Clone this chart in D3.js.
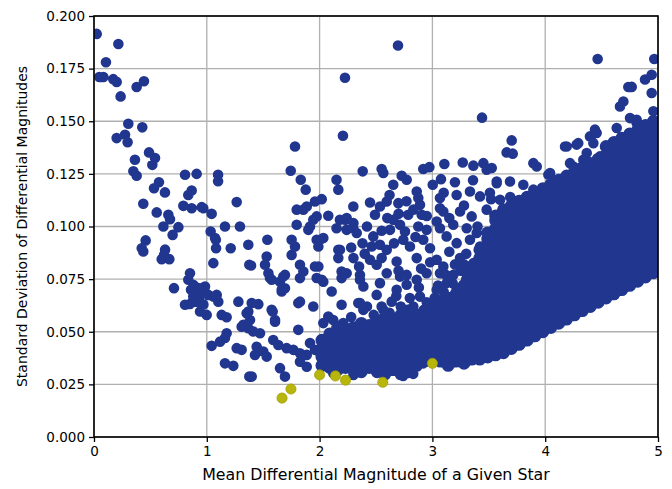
<!DOCTYPE html>
<html><head><meta charset="utf-8">
<script src="https://cdn.jsdelivr.net/npm/d3@7/dist/d3.min.js"></script>
<style>body{margin:0;background:#fff}svg{display:block}text{font-family:"DejaVu Sans",sans-serif}</style>
</head><body><svg id="c" width="672" height="489"></svg>
<script>
const xTicks = [0, 1, 2, 3, 4, 5];
const yTicks = [0, 0.025, 0.05, 0.075, 0.1, 0.125, 0.15, 0.175, 0.2];
const xLabel = "Mean Differential Magnitude of a Given Star";
const yLabel = "Standard Deviation of Differential Magnitudes";

// individually readable stars (x = mean diff. mag, y = std dev)
const sparseStars = [
[0.024,0.1915],[0.216,0.1867],[0.106,0.178],[0.047,0.171],[0.083,0.171],[0.171,0.170],[0.201,0.1687],[0.236,0.1618],[0.378,0.1663],[0.443,0.169],
[0.304,0.1488],[0.428,0.1471],[0.201,0.142],[0.275,0.1436],[0.298,0.140],[0.488,0.1352],[0.541,0.1325],[0.363,0.1317],[0.517,0.1293],[0.349,0.1262],
[0.378,0.1241],[0.807,0.1246],[0.91,0.125],[1.10,0.1246],[1.10,0.1215],[0.576,0.121],[0.532,0.1182],[0.629,0.1162],[0.866,0.1171],[0.836,0.115],
[0.437,0.1108],[0.792,0.1098],[0.866,0.1087],[0.955,0.1092],[1.043,0.106],[0.556,0.1067],[0.659,0.1056],[0.674,0.1035],[0.615,0.100],[0.748,0.0997],
[0.697,0.096],[1.034,0.0976],[0.458,0.0934],[1.08,0.0937],[0.423,0.0897],[0.63,0.089],[0.437,0.0881],[0.621,0.0865],[0.60,0.0845],[0.668,0.0845],
[1.073,0.0945],[1.082,0.0897],[1.212,0.0897],[1.368,0.0913],[1.058,0.0826],[1.377,0.0818],[0.851,0.0778],[0.709,0.0707],
[0.836,0.0747],[0.88,0.0723],[0.925,0.0707],[0.984,0.0715],[0.955,0.0683],[0.88,0.0667],[0.807,0.0628],[0.851,0.0632],[0.91,0.0643],[1.013,0.0675],
[1.088,0.0675],[1.102,0.0643],[0.94,0.0596],[0.999,0.058],[1.132,0.058],[1.176,0.0569],[1.28,0.0643],[1.353,0.0588],[1.309,0.0524],[1.176,0.0493],
[1.161,0.047],[1.117,0.0453],[1.043,0.0433],[1.265,0.0422],[1.309,0.0414],[1.161,0.035],[1.235,0.0338],[1.377,0.0287],
[0.86,0.070],[0.90,0.068],[0.93,0.066],[0.97,0.063],[0.87,0.064],
[1.782,0.138],[1.744,0.1265],[1.833,0.1222],[1.877,0.1175],[1.265,0.1116],[0.969,0.1087],[1.161,0.100],[1.294,0.100],[1.537,0.0937],[1.392,0.0815],
[1.752,0.0937],[1.782,0.0905],[1.752,0.0865],[1.531,0.0857],[1.516,0.0818],[1.797,0.108],[1.856,0.108],[1.886,0.1095],[1.959,0.1119],[2.019,0.113],
[1.797,0.1008],[1.944,0.1032],[1.974,0.1048],[1.915,0.100],[1.90,0.0984],[2.077,0.1051],[2.15,0.1222],[2.166,0.1175],[2.299,0.1095],[2.18,0.1032],
[2.24,0.104],[2.15,0.0992],[2.299,0.0992],[1.974,0.0937],[2.033,0.0945],[1.989,0.0905],[1.989,0.081],[2.166,0.0889],[2.166,0.085],[2.195,0.0786],
[1.826,0.0818],[1.856,0.0786],[1.546,0.0778],
[2.225,0.1707],[2.207,0.1431],[2.695,0.186],[3.44,0.1517],
[2.382,0.1262],[2.55,0.1273],[2.565,0.1254],[2.728,0.1241],[2.772,0.1222],[2.653,0.1198],[2.919,0.1273],[2.973,0.1282],[3.106,0.1297],[3.269,0.1304],
[3.363,0.1289],[3.452,0.1301],[3.481,0.127],[3.003,0.1198],[3.076,0.1225],[3.2,0.121],[3.067,0.1135],[3.215,0.115],[3.333,0.1166],[3.422,0.1143],
[3.57,0.1206],[3.658,0.1352],[2.447,0.1114],[2.535,0.1095],[2.595,0.1119],[2.698,0.1111],[2.491,0.1056],[2.861,0.1166],[2.875,0.1135],[2.89,0.1103],
[2.831,0.108],[2.786,0.1056],[2.905,0.1056],[3.067,0.1087],[3.097,0.1071],[3.245,0.1071],[3.348,0.1048],[3.481,0.108],[2.225,0.1032],[2.3,0.1016],
[2.24,0.0984],[2.329,0.0969],[2.653,0.1032],[2.713,0.1008],[2.624,0.0984],[2.757,0.0976],[2.875,0.100],[2.949,0.0984],[3.038,0.1024],[3.067,0.0992],
[3.185,0.1008],[3.304,0.0992],[3.393,0.0969],[3.511,0.0969],[2.476,0.0953],[2.535,0.0913],[2.462,0.0905],[2.595,0.0889],[2.742,0.0937],[2.801,0.0905],
[2.919,0.0937],[2.979,0.0897],[3.126,0.0953],[3.215,0.0921],[3.333,0.0937],[3.422,0.0905],[3.57,0.0921],[2.447,0.0842],[2.506,0.0818],[2.683,0.0834],
[2.861,0.085],[3.038,0.0842],[3.097,0.081],[3.245,0.085],[3.363,0.0826],[3.511,0.0857],[3.629,0.081],[2.24,0.0778],[2.358,0.077],[2.595,0.0778],
[2.772,0.077],[2.949,0.0778],[3.185,0.077],[3.422,0.0778],
[2.62,0.115],[2.70,0.106],[2.60,0.104],[2.77,0.112],[2.42,0.100],[2.38,0.092],[2.40,0.087],[2.30,0.085],[2.28,0.090],[2.55,0.098],
[2.66,0.092],[2.85,0.095],[2.95,0.105],[3.15,0.104],[3.28,0.110],[3.40,0.100],[3.30,0.087],[3.15,0.088],[2.98,0.083],[2.90,0.080],
[2.70,0.079],[2.55,0.085],[2.35,0.081],[3.10,0.116],[3.52,0.113],[3.36,0.122],
[1.058,0.0667],[1.368,0.0596],[1.457,0.0631],[1.383,0.0556],[1.324,0.0533],[1.584,0.0596],[1.605,0.0548],[1.56,0.0755],[1.678,0.0762],[1.664,0.0691],
[1.693,0.0707],[1.811,0.0636],[1.944,0.062],[2.019,0.0747],[2.107,0.0691],[2.195,0.0628],[2.343,0.0636],[1.811,0.0509],[1.472,0.0493],[1.412,0.0501],
[1.368,0.0517],[1.442,0.0429],[1.501,0.0406],[1.531,0.0382],[1.427,0.039],[1.589,0.0461],[1.634,0.0437],[1.708,0.0422],[1.767,0.0414],[1.826,0.0398],
[1.886,0.039],[1.915,0.0446],[1.959,0.0414],[2.004,0.0398],[2.063,0.0437],[2.033,0.0541],[2.077,0.0572],[2.121,0.0556],[2.15,0.0524],[2.21,0.0541],
[2.27,0.0509],[2.24,0.0477],[2.299,0.0446],[2.329,0.0398],[1.826,0.0358],[1.886,0.0334],[1.398,0.0287],[1.649,0.0327],[1.693,0.0287],[2.121,0.0303],
[2.299,0.0334],
[1.649,0.0738],[1.575,0.0747],[1.693,0.077],[1.664,0.0699],[1.826,0.0755],[1.959,0.081],[1.974,0.0755],[2.033,0.0738],[2.195,0.0755],[2.18,0.0889],
[2.004,0.0937],[1.826,0.0643],[1.398,0.0636],[1.575,0.0604],[1.605,0.0556],
[2.358,0.0747],[2.388,0.0715],[2.535,0.0731],[2.506,0.0675],[2.358,0.0636],[2.388,0.0604],[2.713,0.0762],[2.683,0.0699],[2.772,0.0723],[2.861,0.0747],
[2.89,0.0667],[2.831,0.062],[2.72,0.062],[2.639,0.0643],[2.565,0.0604],[3.067,0.0778],[3.126,0.0731],[3.038,0.0699],[3.067,0.0651],[3.215,0.0699],
[3.30,0.075],[3.363,0.0715],[3.452,0.0731],[3.57,0.0747],[3.363,0.0651],[3.481,0.0636],[3.60,0.0667],
[3.02,0.066],[3.10,0.069],[3.18,0.073],[3.25,0.079],[3.12,0.077],[3.20,0.082],[3.28,0.082],[3.05,0.072],[3.33,0.078],[2.95,0.064],
[2.88,0.071],[2.80,0.066],[2.62,0.059],[2.48,0.058],[2.42,0.062],[2.55,0.062],[2.28,0.057],[2.68,0.067],
[2.30,0.0295],[2.74,0.029],[2.83,0.030],[2.92,0.035],[3.13,0.034],[3.29,0.035],[3.42,0.0375],[2.98,0.037],
[4.465,0.1796],[4.967,0.1796],[4.944,0.1721],[4.885,0.1698],[4.737,0.1663],[4.767,0.1663],[4.944,0.1634],[4.693,0.1594],[4.663,0.157],[4.959,0.1547],
[4.752,0.1515],[4.811,0.1507],[4.634,0.1468],[4.441,0.146],[4.90,0.1476],[3.703,0.1409],[3.712,0.1346],[3.895,0.1301],[3.925,0.1285],[4.19,0.138],
[4.293,0.1396],[4.397,0.1428],[4.427,0.1396],[4.604,0.1404],[4.84,0.1436],[4.043,0.1254],[4.072,0.1222],[4.249,0.1285],[4.368,0.1349],[4.486,0.1333],
[4.722,0.138],[4.90,0.1412],[3.526,0.1278],[3.57,0.1214],[3.688,0.1214],[3.806,0.1198],[3.895,0.1175],[4.028,0.1246],[3.954,0.1166],[4.176,0.138],
[4.279,0.1389],[4.22,0.1301],[4.338,0.1317],[4.456,0.1444],[4.811,0.1491],[4.929,0.1476],[3.51,0.116],[3.60,0.1127],[3.69,0.114],[3.84,0.1127],[3.93,0.1135]
];

// crowded part of the cloud, read column by column (x, list of y)
const denseColX = [2.02,2.09,2.16,2.23,2.30,2.37,2.44,2.51,2.58,2.65,2.72,2.79,2.86,2.93,3.00,3.07,3.14,3.21,3.28,3.35,3.42,3.49,3.56,
 3.63,3.70,3.77,3.84,3.91,3.98,4.05,4.12,4.19,4.26,4.33,4.40,4.47,4.54,4.61,4.68,4.75,4.82,4.89,4.96];
const denseColY = [
[0.034,0.038,0.042,0.046],
[0.033,0.037,0.041,0.045,0.049],
[0.032,0.036,0.040,0.044,0.048,0.052],
[0.033,0.037,0.041,0.045,0.049],
[0.032,0.036,0.040,0.044,0.048,0.052],
[0.031,0.034,0.038,0.042,0.046,0.050,0.054],
[0.033,0.037,0.041,0.045,0.049,0.053],
[0.031,0.035,0.039,0.043,0.047,0.051,0.055],
[0.030,0.034,0.038,0.042,0.046,0.050,0.054,0.057],
[0.032,0.036,0.040,0.044,0.048,0.052,0.056],
[0.030,0.034,0.038,0.042,0.046,0.050,0.054,0.058],
[0.031,0.036,0.040,0.044,0.048,0.052,0.056,0.060],
[0.034,0.038,0.042,0.046,0.050,0.054,0.058],
[0.036,0.040,0.044,0.048,0.052,0.056,0.060],
[0.038,0.042,0.046,0.050,0.054,0.058,0.062],
[0.036,0.040,0.044,0.048,0.052,0.056,0.060,0.064],
[0.034,0.038,0.042,0.046,0.050,0.054,0.058,0.062,0.066],
[0.036,0.040,0.044,0.048,0.052,0.056,0.060,0.064,0.068],
[0.035,0.039,0.043,0.047,0.051,0.055,0.059,0.063,0.067,0.072],
[0.037,0.041,0.045,0.049,0.053,0.057,0.061,0.065,0.069,0.074,0.078,0.081],
[0.037,0.041,0.045,0.049,0.053,0.057,0.061,0.065,0.069,0.073,0.077,0.081,0.085,0.089],
[0.038,0.042,0.046,0.050,0.054,0.058,0.062,0.066,0.070,0.074,0.078,0.082,0.086,0.090,0.094,0.097],
[0.039,0.043,0.047,0.051,0.055,0.059,0.063,0.067,0.071,0.075,0.079,0.083,0.087,0.091,0.095,0.099,0.103,0.105],
[0.040,0.044,0.048,0.052,0.056,0.061,0.064,0.068,0.072,0.076,0.080,0.084,0.089,0.092,0.096,0.100,0.104,0.108],
[0.042,0.046,0.050,0.054,0.058,0.062,0.066,0.071,0.074,0.078,0.082,0.086,0.090,0.094,0.098,0.102,0.106,0.110],
[0.044,0.048,0.052,0.056,0.060,0.064,0.068,0.072,0.076,0.080,0.085,0.088,0.092,0.096,0.100,0.104,0.108,0.112],
[0.046,0.050,0.054,0.058,0.062,0.066,0.070,0.074,0.078,0.082,0.086,0.090,0.094,0.098,0.102,0.106,0.110,0.114],
[0.048,0.052,0.056,0.060,0.064,0.068,0.072,0.076,0.081,0.084,0.088,0.092,0.096,0.100,0.104,0.108,0.112,0.116],
[0.050,0.054,0.058,0.062,0.066,0.070,0.074,0.078,0.082,0.086,0.090,0.094,0.098,0.102,0.106,0.110,0.114,0.118],
[0.052,0.056,0.060,0.064,0.068,0.072,0.076,0.080,0.084,0.088,0.092,0.096,0.100,0.104,0.108,0.112,0.116,0.120],
[0.054,0.058,0.062,0.066,0.070,0.074,0.078,0.082,0.086,0.090,0.094,0.098,0.102,0.106,0.110,0.114,0.118,0.122],
[0.056,0.060,0.064,0.068,0.072,0.076,0.080,0.084,0.088,0.092,0.096,0.100,0.104,0.108,0.112,0.116,0.120,0.124],
[0.058,0.062,0.066,0.070,0.074,0.078,0.082,0.086,0.090,0.094,0.098,0.102,0.106,0.110,0.114,0.118,0.122,0.126],
[0.060,0.064,0.068,0.072,0.076,0.080,0.084,0.088,0.092,0.096,0.100,0.104,0.108,0.112,0.116,0.120,0.124,0.128],
[0.062,0.066,0.070,0.074,0.078,0.082,0.086,0.090,0.094,0.098,0.102,0.106,0.110,0.114,0.118,0.122,0.126,0.130],
[0.064,0.068,0.072,0.076,0.080,0.084,0.088,0.092,0.096,0.100,0.104,0.108,0.112,0.116,0.120,0.124,0.128,0.132],
[0.066,0.070,0.074,0.078,0.082,0.086,0.090,0.094,0.098,0.102,0.106,0.110,0.114,0.118,0.122,0.126,0.130,0.134,0.138],
[0.068,0.072,0.076,0.080,0.084,0.088,0.092,0.096,0.100,0.104,0.108,0.112,0.116,0.120,0.124,0.128,0.132,0.136,0.140],
[0.070,0.074,0.078,0.082,0.086,0.090,0.094,0.098,0.102,0.106,0.110,0.114,0.118,0.122,0.126,0.130,0.134,0.138,0.142],
[0.072,0.076,0.080,0.084,0.088,0.092,0.096,0.100,0.104,0.108,0.112,0.116,0.120,0.124,0.128,0.132,0.136,0.140,0.144],
[0.074,0.078,0.082,0.086,0.090,0.094,0.098,0.102,0.106,0.110,0.114,0.118,0.122,0.126,0.130,0.134,0.138,0.142,0.146],
[0.076,0.080,0.084,0.088,0.092,0.096,0.100,0.104,0.108,0.112,0.116,0.120,0.124,0.128,0.132,0.136,0.140,0.144,0.148],
[0.078,0.082,0.086,0.090,0.094,0.098,0.102,0.106,0.110,0.114,0.118,0.122,0.126,0.130,0.134,0.138,0.142,0.146,0.150]
];

// highlighted stars (lowest scatter)
const bestX = [1.667, 1.746, 2.0, 2.14, 2.23, 2.56, 3.0];
const bestY = [0.0185, 0.0228, 0.0295, 0.029, 0.027, 0.026, 0.035];

const W = 672, H = 489;
const m = {left: 94, top: 16, right: 14, bottom: 52};
const iw = W - m.left - m.right, ih = H - m.top - m.bottom;

const x = d3.scaleLinear().domain([0, 5]).range([0, iw]);
const y = d3.scaleLinear().domain([0, 0.2]).range([ih, 0]);

const svg = d3.select("#c");
const g = svg.append("g").attr("transform", `translate(${m.left},${m.top})`);

const defs = svg.append("defs");
defs.append("clipPath").attr("id", "clip")
  .append("rect").attr("width", iw).attr("height", ih);

// grid
g.append("g").attr("class", "grid")
  .selectAll("line.gx").data(xTicks).join("line")
  .attr("x1", d => x(d)).attr("x2", d => x(d)).attr("y1", 0).attr("y2", ih)
  .attr("stroke", "#b0b0b0").attr("stroke-width", 1.3);
g.append("g").attr("class", "grid")
  .selectAll("line.gy").data(yTicks).join("line")
  .attr("y1", d => y(d)).attr("y2", d => y(d)).attr("x1", 0).attr("x2", iw)
  .attr("stroke", "#b0b0b0").attr("stroke-width", 1.3);

const starColor = "#21368f";
const pts = g.append("g").attr("clip-path", "url(#clip)");

const denseStars = [];
denseColX.forEach((cx, i) => denseColY[i].forEach(cy => denseStars.push({x: cx, y: cy})));
const lone = sparseStars.map(d => ({x: d[0], y: d[1]}));
const allStars = denseStars.map(d => ({...d, r: 6.4})).concat(lone.map(d => ({...d, r: 5.3})));

// all navy stars merged into one path so overlapping edges do not leave seams
const starPath = d3.path();
allStars.forEach(d => {
  const cx = x(d.x), cy = y(d.y);
  starPath.moveTo(cx + d.r, cy);
  starPath.arc(cx, cy, d.r, 0, 2 * Math.PI);
  starPath.closePath();
});
pts.append("path").attr("d", starPath.toString())
  .attr("fill", starColor).attr("fill-rule", "nonzero");

const best = bestX.map((v, i) => ({x: v, y: bestY[i]}));
pts.selectAll("circle.best").data(best).join("circle")
  .attr("class", "best")
  .attr("cx", d => x(d.x)).attr("cy", d => y(d.y)).attr("r", 5.1)
  .attr("fill", "#b8b60b").attr("stroke", "#9c9a05").attr("stroke-width", 0.7);

// axes
const xAxis = d3.axisBottom(x).tickValues(xTicks).tickFormat(d3.format("d")).tickSize(5).tickPadding(4);
const yAxis = d3.axisLeft(y).tickValues(yTicks).tickFormat(d3.format(".3f")).tickSize(5).tickPadding(4);

const gx = g.append("g").attr("transform", `translate(0,${ih})`).call(xAxis);
const gy = g.append("g").call(yAxis);
[gx, gy].forEach(a => {
  a.select(".domain").remove();
  a.selectAll(".tick line").attr("stroke", "#000").attr("stroke-width", 1.3);
  a.selectAll(".tick text").attr("fill", "#000").style("font-size", "13.5px").style("font-family", "DejaVu Sans");
});

// frame
g.append("rect").attr("width", iw).attr("height", ih)
  .attr("fill", "none").attr("stroke", "#000").attr("stroke-width", 1.6);

// labels
svg.append("text").attr("x", m.left + iw / 2).attr("y", 480)
  .attr("text-anchor", "middle").style("font-size", "15.8px").attr("fill", "#000").text(xLabel);
svg.append("text").attr("transform", `translate(27,${m.top + ih / 2}) rotate(-90)`)
  .attr("text-anchor", "middle").style("font-size", "14px").attr("fill", "#000").text(yLabel);
</script></body></html>
